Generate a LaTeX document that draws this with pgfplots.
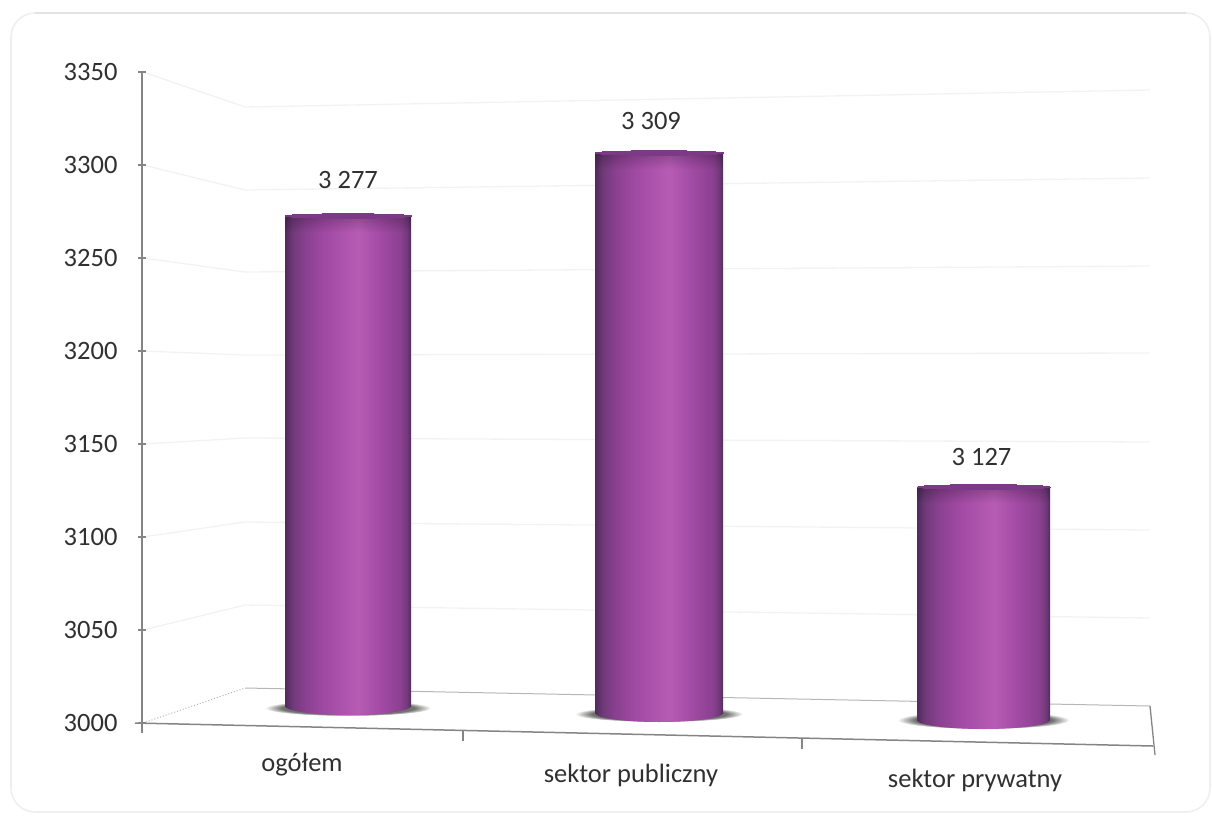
\documentclass[border=0pt]{standalone}
\usepackage{pgfplots}
\pgfplotsset{compat=1.18}
\usepackage{fontspec}
\setmainfont{Carlito}
\usetikzlibrary{fadings}

\definecolor{textgray}{HTML}{303030}
\definecolor{gridgray}{HTML}{F2F2F2}
\definecolor{axisgray}{HTML}{858585}
\definecolor{framegray}{HTML}{EFEFEF}
\definecolor{frametop}{HTML}{E2E2E2}
\definecolor{capcol}{HTML}{7A3A85}
\definecolor{cyla}{HTML}{53295F}
\definecolor{cylb}{HTML}{6F3A78}
\definecolor{cylc}{HTML}{8A4090}
\definecolor{cyld}{HTML}{A14AA4}
\definecolor{cyle}{HTML}{B75CB5}
\definecolor{shadowcol}{HTML}{70736E}

% cylinder body, lit from right of centre
\pgfdeclarehorizontalshading{cylbody}{100bp}{
  color(0bp)=(cyla); color(25bp)=(cyla);
  color(28bp)=(cylb); color(33bp)=(cylc);
  color(41bp)=(cyld); color(54bp)=(cyle);
  color(63bp)=(cyld); color(71bp)=(cylc);
  color(73.5bp)=(cylb); color(75bp)=(cyla); color(100bp)=(cyla)}

% soft contact shadow below each cylinder
\pgfdeclareradialshading{floorshadow}{\pgfpoint{0bp}{0bp}}{
  color(0bp)=(shadowcol); color(20bp)=(shadowcol);
  color(25bp)=(white); color(50bp)=(white)}

\newcommand{\labfont}{\fontsize{26.5}{30}\selectfont\color{textgray}}

\pgfplotsset{
  cylaxis/.style={
    hide axis, scale only axis, clip=false, anchor=south west,
    width=1212pt, xmin=0, xmax=1212, ymin=3000,
    /pgf/number format/assume math mode=true,
    /pgf/number format/1000 sep={\ },
  },
}

% one cylinder: centre x, width, base row, top row, value, label lift, label shift
\newcommand{\cylinder}[7]{%
  \pgfmathsetmacro{\cylbottom}{815-#3}
  \pgfmathsetmacro{\cylheight}{#3-#4}
  \pgfmathsetmacro{\cylradius}{#2/2}
  \begin{axis}[cylaxis, at={(0pt,\cylbottom pt)}, height=\cylheight pt, ymax=#5]
    \addplot[ybar, bar width=#2pt, draw=none, shading=cylbody] coordinates {(#1,#5)};
    \addplot[only marks, mark=*, draw=none, fill=capcol,
      mark size=\cylradius pt,
      mark options={yscale=0.035, draw=capcol, line width=0pt, fill=capcol},
      nodes near coords,
      every node near coord/.append style={font=\labfont, anchor=center,
        yshift=#6pt, xshift=#7pt}] coordinates {(#1,#5)};
    % darkened band just under the rim
    \fill[black, opacity=0.22, path fading=south]
      (axis cs:#1-\cylradius,#5) rectangle
      ([yshift=-16pt]axis cs:#1+\cylradius,#5);
    % rounded lower edge of the cylinder
    \shade[shading=cylbody] (axis cs:#1-\cylradius,3000)
      arc[start angle=180, end angle=360, x radius=\cylradius pt, y radius=9pt] -- cycle;
  \end{axis}
}

\begin{document}
\begin{tikzpicture}
\path[use as bounding box] (0pt,0pt) rectangle (1212pt,815pt);

% pixel-scaled canvas: walls, floor, shadows and category labels
\begin{axis}[
  at={(0pt,0pt)}, anchor=south west, hide axis, scale only axis, clip=false,
  width=1212pt, height=815pt, xmin=0, xmax=1212, ymin=0, ymax=815, y dir=reverse,
]
  \draw[framegray, line width=1.6pt, rounded corners=24pt]
    (axis cs:11,13) rectangle (axis cs:1210,812);
  \draw[frametop, line width=1.6pt] (axis cs:35,13) -- (axis cs:1186,13);

  % gridlines on the side and back walls
  \addplot[gridgray, line width=1.3pt] coordinates {(143,72) (245,107) (1150,90)};
  \addplot[gridgray, line width=1.3pt] coordinates {(143,165) (245,190) (1150,178)};
  \addplot[gridgray, line width=1.3pt] coordinates {(143,258) (245,272) (1150,266)};
  \addplot[gridgray, line width=1.3pt] coordinates {(143,351) (245,355) (1150,353)};
  \addplot[gridgray, line width=1.3pt] coordinates {(143,444) (245,438) (1150,442)};
  \addplot[gridgray, line width=1.3pt] coordinates {(143,537) (245,522) (1150,530)};
  \addplot[gridgray, line width=1.3pt] coordinates {(143,630) (245,605) (1150,618)};

  % floor outline
  \addplot[black!30, line width=1pt, dotted] coordinates {(143,723) (245,688)};
  \addplot[axisgray!60, line width=1pt] coordinates {(245,688) (1150,706)};
  \addplot[axisgray, line width=1.5pt] coordinates {(135,723) (1153,746)};
  \addplot[axisgray, line width=1.3pt] coordinates {(1150,706) (1155,755)};

  % ticks along the front edge
  \addplot[axisgray, line width=1.3pt] coordinates {(142,723) (142,733)};
  \addplot[axisgray, line width=1.3pt] coordinates {(463,731) (463,741)};
  \addplot[axisgray, line width=1.3pt] coordinates {(802,739) (802,749)};

  % contact shadows
  \shade[shading=floorshadow] (axis cs:348,708) ellipse[x radius=83pt, y radius=8pt];
  \shade[shading=floorshadow] (axis cs:659,714) ellipse[x radius=84pt, y radius=8pt];
  \shade[shading=floorshadow] (axis cs:983.5,720) ellipse[x radius=86pt, y radius=9pt];

  % category names
  \node[font=\labfont] at (axis cs:302,765) {ogółem};
  \node[font=\labfont] at (axis cs:631,775) {sektor publiczny};
  \node[font=\labfont] at (axis cs:975,780) {sektor prywatny};
\end{axis}

% value scale
\begin{axis}[
  at={(142pt,92pt)}, anchor=south west, scale only axis,
  width=1pt, height=651pt, xmin=0, xmax=1, ymin=3000, ymax=3350,
  axis x line=none, axis y line=left, axis line style={-, axisgray, line width=1.5pt},
  ytick={3000,3050,3100,3150,3200,3250,3300,3350},
  tick style={axisgray, line width=1.2pt}, major tick length=8pt,
  yticklabel style={font=\labfont, xshift=-17pt},
  /pgf/number format/assume math mode=true,
  /pgf/number format/1000 sep={},
]
  \addplot[draw=none] coordinates {(0,3000) (0,3350)};
\end{axis}

% the three cylinders
\cylinder{348}{126}{706}{216}{3277}{36}{0}
\cylinder{659}{128}{713}{153}{3309}{32}{-8}
\cylinder{983.5}{133}{720}{487}{3127}{30}{-2}
\end{tikzpicture}
\end{document}
